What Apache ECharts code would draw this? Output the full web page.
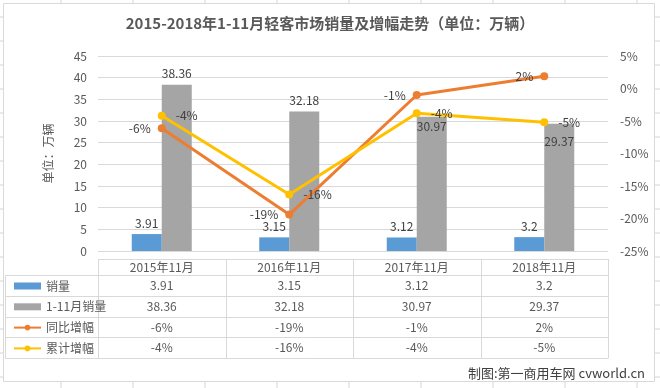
<!DOCTYPE html>
<html><head><meta charset="utf-8">
<script src="https://cdn.jsdelivr.net/npm/echarts@6/dist/echarts.min.js"></script>
<style>html,body{margin:0;padding:0;background:#fff}#c{width:660px;height:388px}</style>
</head><body><div id="c"></div>
<script>
const categories = ['2015年11月', '2016年11月', '2017年11月', '2018年11月'];
const seriesNames = ['销量', '1-11月销量', '同比增幅', '累计增幅'];
const salesNov = [3.91, 3.15, 3.12, 3.2];
const salesJanNov = [38.36, 32.18, 30.97, 29.37];
const yoyGrowth = [-6.1, -19.4, -1.0, 1.9];
const cumGrowth = [-4.2, -16.3, -3.8, -5.2];
const leftTicks = [0, 45, 5];
const rightTicks = [-25, 5, 5];

const FONT = "'Noto Sans CJK SC', 'Liberation Sans', sans-serif";
const TXT = '#595959';
const LBL = '#404040';
const colors = ['#5B9BD5', '#A5A5A5', '#ED7D31', '#FFC000'];

const gridL = 98, gridR = 608, gridT = 56, gridB = 251;
const colW = (gridR - gridL) / categories.length;
const headerTop = 259, rowTop = 275, rowH = 20.8;
const pct = v => Math.round(v) + '%';

const chart = echarts.init(document.getElementById('c'), null, {renderer: 'canvas'});

const g = [];
// spreadsheet background
for (let y = 17; y < 388; y += 24) g.push({type: 'line', z: -20, shape: {x1: 0, y1: y, x2: 660, y2: y}, style: {stroke: '#d4d4d4', lineWidth: 1}});
for (let x = 61; x < 660; x += 72) g.push({type: 'line', z: -20, shape: {x1: x, y1: 0, x2: x, y2: 388}, style: {stroke: '#d4d4d4', lineWidth: 1}});
g.push({type: 'rect', z: -10, shape: {x: 3.5, y: 3.5, width: 651, height: 378}, style: {fill: '#fff', stroke: '#d9d9d9', lineWidth: 1}});
// table lines
const tblStroke = {stroke: '#d9d9d9', lineWidth: 1};
g.push({type: 'line', z: -5, shape: {x1: gridL, y1: headerTop + 0.5, x2: gridR, y2: headerTop + 0.5}, style: tblStroke});
for (let r = 0; r <= 4; r++) {
  const y = Math.round(rowTop + r * rowH) + 0.5;
  g.push({type: 'line', z: -5, shape: {x1: 5, y1: y, x2: gridR, y2: y}, style: tblStroke});
}
for (let c = 0; c <= categories.length; c++) {
  const x = Math.round(gridL + c * colW) + 0.5;
  g.push({type: 'line', z: -5, shape: {x1: x, y1: headerTop, x2: x, y2: Math.round(rowTop + 4 * rowH) + 0.5}, style: tblStroke});
}
g.push({type: 'line', z: -5, shape: {x1: 5.5, y1: rowTop, x2: 5.5, y2: Math.round(rowTop + 4 * rowH) + 0.5}, style: tblStroke});
const rowsText = [
  salesNov.map(String),
  salesJanNov.map(String),
  yoyGrowth.map(pct),
  cumGrowth.map(pct)
];
rowsText.forEach((row, r) => {
  row.forEach((t, c) => {
    g.push({type: 'text', z: 5, x: gridL + (c + 0.5) * colW, y: rowTop + (r + 0.5) * rowH,
      style: {text: t, fill: TXT, font: '12px ' + FONT, align: 'center', verticalAlign: 'middle'}});
  });
});
g.push({type: 'text', z: 5, x: 645, y: 373, style: {text: '制图:第一商用车网 cvworld.cn', fill: LBL, font: '13px ' + FONT, align: 'right', verticalAlign: 'middle'}});

const barLabel = {show: true, position: 'top', distance: 5, color: LBL, fontSize: 12, fontFamily: FONT};

chart.setOption({
  animation: false,
  textStyle: {fontFamily: FONT},
  title: {text: '2015-2018年1-11月轻客市场销量及增幅走势（单位：万辆）', left: 'center', top: 11,
    textStyle: {fontSize: 15, fontWeight: 'bold', color: TXT, fontFamily: FONT}},
  grid: {left: gridL, right: 660 - gridR, top: gridT, bottom: 388 - gridB},
  legend: {
    orient: 'vertical', left: 8, top: rowTop - 0.5, itemWidth: 27, itemHeight: 7, itemGap: 7.8,
    textStyle: {color: TXT, fontSize: 12, fontFamily: FONT, lineHeight: 13},
    data: [{name: seriesNames[0], icon: 'rect'}, {name: seriesNames[1], icon: 'rect'}, {name: seriesNames[2]}, {name: seriesNames[3]}]
  },
  xAxis: {type: 'category', data: categories,
    axisLine: {show: false}, axisTick: {show: false},
    axisLabel: {color: TXT, fontSize: 12, margin: 10, fontFamily: FONT}},
  yAxis: [
    {type: 'value', min: leftTicks[0], max: leftTicks[1], interval: leftTicks[2],
      name: '单位：万辆', nameLocation: 'middle', nameGap: 44, nameRotate: 90,
      nameTextStyle: {color: TXT, fontSize: 12, fontFamily: FONT},
      axisLine: {show: false}, axisTick: {show: false},
      axisLabel: {color: TXT, fontSize: 12, margin: 11},
      splitLine: {lineStyle: {color: '#d9d9d9', width: 1}}},
    {type: 'value', min: rightTicks[0], max: rightTicks[1], interval: rightTicks[2], position: 'right',
      axisLine: {show: false}, axisTick: {show: false},
      axisLabel: {color: TXT, fontSize: 12, margin: 12, formatter: '{value}%'},
      splitLine: {show: false}}
  ],
  series: [
    {name: seriesNames[0], type: 'bar', yAxisIndex: 0, barWidth: 30, barGap: '0%',
      itemStyle: {color: colors[0]}, data: salesNov, label: barLabel},
    {name: seriesNames[1], type: 'bar', yAxisIndex: 0, barWidth: 30,
      itemStyle: {color: colors[1]}, label: barLabel,
      data: salesJanNov.map((v, i) => i < 2 ? v : {value: v, label: {position: 'insideTop', distance: i === 2 ? 4 : 12}})},
    {name: seriesNames[2], type: 'line', yAxisIndex: 1, symbol: 'circle', symbolSize: 8,
      lineStyle: {color: colors[2], width: 3}, itemStyle: {color: colors[2]}, data: yoyGrowth,
      label: {show: true, position: 'left', distance: 7, color: LBL, fontSize: 12, formatter: p => pct(p.value)}},
    {name: seriesNames[3], type: 'line', yAxisIndex: 1, symbol: 'circle', symbolSize: 8,
      lineStyle: {color: colors[3], width: 3}, itemStyle: {color: colors[3]}, data: cumGrowth,
      label: {show: true, position: 'right', distance: 10, color: LBL, fontSize: 12, formatter: p => pct(p.value)}}
  ],
  graphic: g
});
</script></body></html>
